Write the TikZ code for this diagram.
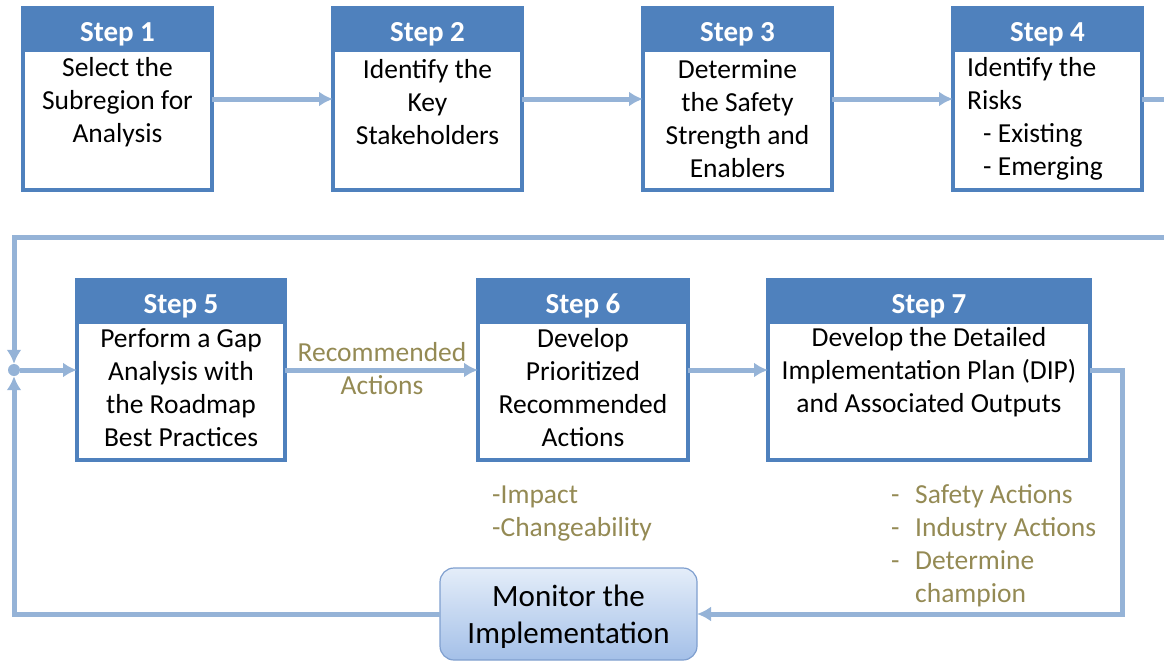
\documentclass[tikz,border=0pt]{standalone}
\usepackage{fontspec}
\setmainfont{Carlito}
\usetikzlibrary{arrows.meta}
\definecolor{hblue}{HTML}{4F81BD}
\definecolor{lblue}{HTML}{95B3D7}
\definecolor{olive}{HTML}{948A54}
\definecolor{mtop}{HTML}{E4EDF9}
\definecolor{mbot}{HTML}{A4C0E8}
\definecolor{mborder}{HTML}{7F9FCF}
\tikzset{
  stepbox/.style={draw=hblue, line width=3.5pt, fill=white, anchor=north west, inner sep=0pt, outer sep=0pt},
  headbox/.style={draw=hblue, line width=3.5pt, fill=hblue, anchor=north, inner sep=0pt, outer sep=0pt, text=white,
    text height=30pt, text depth=5pt, font=\fontsize{29}{33}\selectfont\bfseries},
  bodytext/.style={align=center, inner sep=0pt, font=\fontsize{27.5}{33}\selectfont},
  flow/.style={draw=lblue, line width=5pt, -{Latex[length=14pt,width=15pt]}},
  flowline/.style={draw=lblue, line width=5pt},
  note/.style={text=olive, align=left, inner sep=0pt, font=\fontsize{27.5}{33}\selectfont},
  monbox/.style={draw=mborder, line width=1.2pt, rounded corners=14pt, top color=mtop, bottom color=mbot,
    minimum width=257pt, minimum height=92pt, inner sep=0pt, outer sep=0pt},
  montext/.style={align=center, inner sep=0pt, font=\fontsize{31}{37}\selectfont}
}
\begin{document}
\begin{tikzpicture}[x=1pt,y=-1pt]
\useasboundingbox (0,0) rectangle (1164,664);
% row 1 boxes
\node[stepbox, minimum width=189pt, minimum height=182pt] (s1) at (23,8) {};
\node[headbox, minimum width=189pt, minimum height=42pt] (h1) at (s1.north) {Step 1};
\node[bodytext] (t1) at (117.5,102) {Select the\\Subregion for\\Analysis};

\node[stepbox, minimum width=189pt, minimum height=182pt] (s2) at (333,8) {};
\node[headbox, minimum width=189pt, minimum height=42pt] (h2) at (s2.north) {Step 2};
\node[bodytext] (t2) at (427.5,102) {Identify the\\Key\\Stakeholders};

\node[stepbox, minimum width=189pt, minimum height=182pt] (s3) at (643,8) {};
\node[headbox, minimum width=189pt, minimum height=42pt] (h3) at (s3.north) {Step 3};
\node[bodytext] (t3) at (737.5,118.5) {Determine\\the Safety\\Strength and\\Enablers};

\node[stepbox, minimum width=189pt, minimum height=182pt] (s4) at (953,8) {};
\node[headbox, minimum width=189pt, minimum height=42pt] (h4) at (s4.north) {Step 4};
\node[bodytext, align=left, anchor=west] (t4) at (967,118.5) {Identify the\\Risks\\\hspace*{16pt}- Existing\\\hspace*{16pt}- Emerging};

% row 2 boxes
\node[stepbox, minimum width=208pt, minimum height=180pt] (s5) at (77,280) {};
\node[headbox, minimum width=208pt, minimum height=42pt] (h5) at (s5.north) {Step 5};
\node[bodytext] (t5) at (181,387.5) {Perform a Gap\\Analysis with\\the Roadmap\\Best Practices};

\node[stepbox, minimum width=210pt, minimum height=180pt] (s6) at (478,280) {};
\node[headbox, minimum width=210pt, minimum height=42pt] (h6) at (s6.north) {Step 6};
\node[bodytext] (t6) at (583,387.5) {Develop\\Prioritized\\Recommended\\Actions};

\node[stepbox, minimum width=322pt, minimum height=180pt] (s7) at (768,280) {};
\node[headbox, minimum width=322pt, minimum height=42pt] (h7) at (s7.north) {Step 7};
\node[bodytext] (t7) at (929,372) {Develop the Detailed\\Implementation Plan (DIP)\\and Associated Outputs};

% monitor
\node[monbox] (mon) at (568.5,614) {};
\node[montext] (mt) at (568.5,617) {Monitor the\\Implementation};

% junction dot
\node[circle, fill=lblue, inner sep=0pt, minimum size=12pt] (dot) at (14,370) {};

% coordinates
\coordinate (e4) at ([xshift=24pt]s4.east);
\coordinate (r1) at (1164,237);
\coordinate (l1) at (14,237);
\coordinate (c7) at ([xshift=32pt]s7.east);
\coordinate (lb) at (14,614);

% connectors
\draw[flow] (s1.east) -- (s2.west);
\draw[flow] (s2.east) -- (s3.west);
\draw[flow] (s3.east) -- (s4.west);
\draw[flowline] (s4.east) -- (e4);
\draw[flow] (r1) -- (l1) -- (dot.north);
\draw[flow] (dot.east) -- (s5.west);
\draw[flow] (s5.east) -- (s6.west);
\draw[flow] (s6.east) -- (s7.west);
\draw[flow] (s7.east) -- (c7) -- (c7 |- mon.east) -- (mon.east);
\draw[flow] (mon.west) -- (lb) -- (dot.south);

% notes
\node[note, align=center] (n1) at (382,369) {Recommended\\Actions};
\node[note, anchor=west] (n2) at (492,513.5) {-Impact\\-Changeability};
\node[note, anchor=west] (n3) at (891,545.5) {\makebox[24pt][l]{-}Safety Actions\\\makebox[24pt][l]{-}Industry Actions\\\makebox[24pt][l]{-}Determine\\\makebox[24pt][l]{}champion};
\end{tikzpicture}
\end{document}
